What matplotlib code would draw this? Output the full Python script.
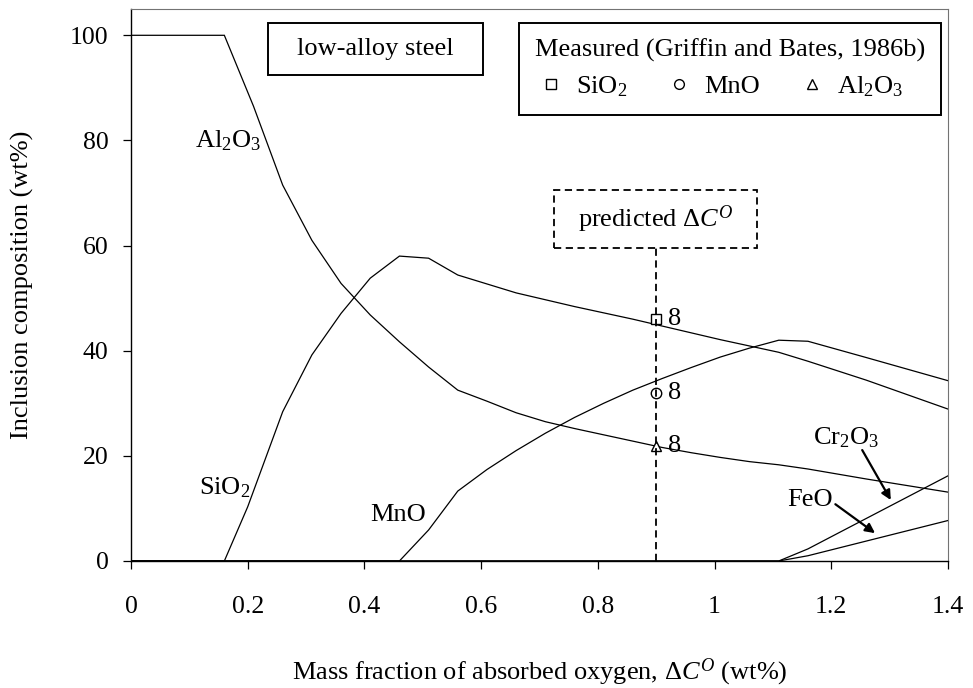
import numpy as np
import matplotlib
matplotlib.use('Agg')
import matplotlib.pyplot as plt
from matplotlib.lines import Line2D
from matplotlib.patches import Rectangle

plt.rcParams['font.family'] = ['Liberation Serif', 'DejaVu Serif']
plt.rcParams['mathtext.fontset'] = 'custom'
plt.rcParams['mathtext.rm'] = 'Liberation Serif'
plt.rcParams['mathtext.it'] = 'Liberation Serif:italic'

# predicted inclusion composition (wt%) vs absorbed oxygen (wt%)
al2o3_x = [0, 0.16, 0.21, 0.26, 0.31, 0.36, 0.41, 0.46, 0.51, 0.56, 0.61, 0.66,
           0.71, 0.76, 0.81, 0.86, 0.91, 0.96, 1.01, 1.06, 1.11, 1.16, 1.26, 1.4]
al2o3_y = [100, 100, 86.5, 71.5, 61.0, 52.8, 46.8, 41.7, 36.9, 32.5, 30.4, 28.2,
           26.5, 25.2, 24.0, 22.8, 21.6, 20.6, 19.7, 18.9, 18.3, 17.5, 15.6, 13.1]

sio2_x = [0, 0.16, 0.2, 0.26, 0.31, 0.36, 0.41, 0.46, 0.51, 0.56, 0.61, 0.66,
          0.71, 0.76, 0.81, 0.86, 0.91, 0.96, 1.01, 1.06, 1.11, 1.16, 1.26, 1.4]
sio2_y = [0, 0, 10.3, 28.4, 39.2, 47.1, 53.8, 58.0, 57.6, 54.4, 52.7, 51.0,
          49.7, 48.4, 47.2, 46.0, 44.7, 43.4, 42.1, 40.9, 39.7, 38.0, 34.4, 28.9]

mno_x = [0, 0.46, 0.51, 0.56, 0.61, 0.66, 0.71, 0.76, 0.81, 0.86, 0.91, 0.96,
         1.01, 1.06, 1.11, 1.16, 1.26, 1.4]
mno_y = [0, 0, 5.9, 13.3, 17.4, 21.0, 24.3, 27.3, 30.0, 32.5, 34.7, 36.8,
         38.8, 40.5, 42.0, 41.8, 38.7, 34.3]

cr2o3_x = [0, 1.11, 1.16, 1.21, 1.4]
cr2o3_y = [0, 0, 2.3, 5.2, 16.2]

feo_x = [0, 1.11, 1.16, 1.4]
feo_y = [0, 0, 1.0, 7.7]

# measured (Griffin and Bates, 1986b)
meas_x = 0.9
meas_sio2 = 46.0
meas_mno = 32.0
meas_al2o3 = 21.9
meas_n = '8'

fs = 19
fs_tick = 18.5
fig = plt.figure(figsize=(9.73, 6.88), dpi=100)
ax = fig.add_axes([0.1346, 0.1846, 0.9743 - 0.1346, 0.9869 - 0.1846])

for xs, ys in [(al2o3_x, al2o3_y), (sio2_x, sio2_y), (mno_x, mno_y),
               (cr2o3_x, cr2o3_y), (feo_x, feo_y)]:
    ax.plot(xs, ys, color='black', lw=0.9, solid_joinstyle='miter')

mk = dict(ls='none', mfc='white', mec='black', mew=1.0, ms=7.5, zorder=3)
ax.plot([meas_x], [meas_sio2], marker='s', **mk)
ax.plot([meas_x], [meas_mno], marker='o', **mk)
ax.plot([meas_x], [meas_al2o3], marker='^', **mk)
for yv in [meas_sio2, meas_mno, meas_al2o3]:
    ax.text(meas_x + 0.02, yv, meas_n, fontsize=fs, va='center', ha='left')

# predicted oxygen pick-up
ax.plot([meas_x, meas_x], [0, 59.5], color='black', lw=1.3, dashes=(4, 2.5), zorder=4)
ax.add_patch(Rectangle((0.725, 59.5), 0.348, 11.0, fill=False, ec='black',
                       lw=1.3, ls=(0, (4, 2.5))))
ax.text(0.899, 65.0, r'predicted $\Delta C^{O}$', fontsize=fs, ha='center', va='center')

ax.add_patch(Rectangle((0.234, 92.4), 0.369, 9.9, fill=False, ec='black', lw=1.4))
ax.text(0.418, 97.3, 'low-alloy steel', fontsize=fs, ha='center', va='center')

# curve labels
ax.text(0.167, 80.0, r'Al$_2$O$_3$', fontsize=fs, ha='center', va='center')
ax.text(0.16, 14.0, r'SiO$_2$', fontsize=fs, ha='center', va='center')
ax.text(0.457, 8.7, 'MnO', fontsize=fs, ha='center', va='center')
ax.text(1.225, 23.4, r'Cr$_2$O$_3$', fontsize=fs, ha='center', va='center')
ax.text(1.163, 11.6, 'FeO', fontsize=fs, ha='center', va='center')
arr = dict(arrowstyle='-|>', color='black', lw=1.6, mutation_scale=14, shrinkA=0, shrinkB=0)
ax.annotate('', xy=(1.302, 11.6), xytext=(1.253, 21.1), arrowprops=arr)
ax.annotate('', xy=(1.275, 5.3), xytext=(1.207, 10.8), arrowprops=arr)

handles = [Line2D([], [], marker=m, ls='none', mfc='white', mec='black', mew=1.0, ms=7)
           for m in ['s', 'o', '^']]
leg = ax.legend(handles, [r'SiO$_2$', 'MnO', r'Al$_2$O$_3$'], ncol=3,
                title='Measured (Griffin and Bates, 1986b)', title_fontsize=fs,
                fontsize=fs, loc='upper right', bbox_to_anchor=(0.9914, 0.9746),
                fancybox=False, framealpha=1, edgecolor='black', borderpad=0.6,
                handletextpad=0.35, columnspacing=1.37, handlelength=1.2,
                labelspacing=0.45, borderaxespad=0, alignment='left')
leg.get_frame().set_linewidth(1.4)

ax.set_xlim(0, 1.4)
ax.set_ylim(0, 105)
ax.set_xticks(np.arange(0, 1.41, 0.2))
ax.set_xticklabels(['0', '0.2', '0.4', '0.6', '0.8', '1', '1.2', '1.4'])
ax.set_yticks(np.arange(0, 101, 20))
ax.tick_params(direction='out', length=6, width=0.9, labelsize=fs_tick)
ax.tick_params(axis='x', pad=19)
ax.tick_params(axis='y', pad=10)
for s in ['top', 'right']:
    ax.spines[s].set_color('0.45')
    ax.spines[s].set_linewidth(0.8)
for s in ['left', 'bottom']:
    ax.spines[s].set_linewidth(1.0)

ax.set_xlabel(r'Mass fraction of absorbed oxygen, $\Delta C^{O}$ (wt%)', fontsize=fs, labelpad=28)
ax.set_ylabel('Inclusion composition (wt%)', fontsize=fs, labelpad=26)

fig.savefig('out.png', dpi=100)
